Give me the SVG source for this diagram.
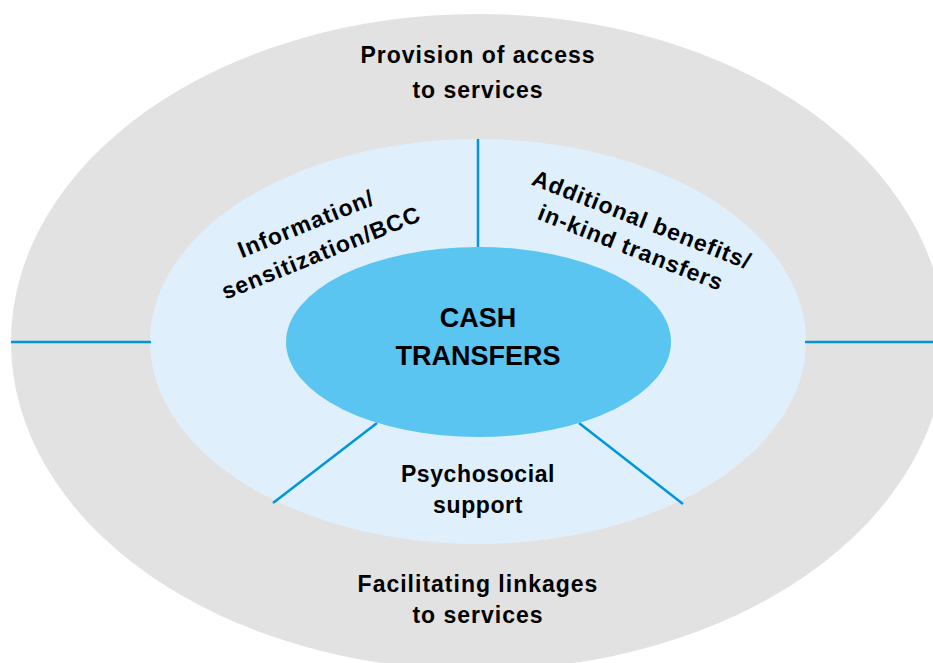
<svg xmlns="http://www.w3.org/2000/svg" width="933" height="663" viewBox="0 0 933 663">
<style>
.t{font-family:"Liberation Sans",Arial,Helvetica,sans-serif;font-weight:bold;fill:#000;text-anchor:middle;}
.o{font-size:23px;letter-spacing:1px;}
.c{font-size:27px;}
.ln{stroke:#0096db;stroke-width:2.5;fill:none;}
</style>
<rect width="933" height="663" fill="#ffffff"/>
<g id="outer">
<ellipse cx="478" cy="342" rx="467" ry="328" fill="#e2e2e2"/>
</g>
<g id="middle">
<ellipse cx="478" cy="341.5" rx="328" ry="202.5" fill="#dff0fc"/>
</g>
<g id="connectors">
<line class="ln" x1="478" y1="139" x2="478" y2="248"/>
<line class="ln" x1="11" y1="342" x2="151" y2="342"/>
<line class="ln" x1="805" y1="342" x2="933" y2="342"/>
<line class="ln" x1="377" y1="423" x2="273" y2="503"/>
<line class="ln" x1="579" y1="423" x2="683" y2="504"/>
</g>
<g id="core">
<ellipse cx="478.5" cy="342" rx="192.5" ry="95" fill="#5bc5f2"/>
<text class="t c" x="478" y="327">CASH</text>
<text class="t c" x="478" y="365">TRANSFERS</text>
</g>
<g id="provision">
<text class="t o" x="478" y="63">Provision of access</text>
<text class="t o" x="478" y="98">to services</text>
</g>
<g id="information">
<text class="t o" transform="translate(309,231) rotate(-22)">Information/</text>
<text class="t o" transform="translate(324,260) rotate(-22)">sensitization/BCC</text>
</g>
<g id="additional">
<text class="t o" transform="translate(639,227) rotate(21.5)">Additional benefits/</text>
<text class="t o" transform="translate(628,255) rotate(21.5)">in-kind transfers</text>
</g>
<g id="psychosocial">
<text class="t o" style="letter-spacing:0.6px" x="478" y="482">Psychosocial</text>
<text class="t o" style="letter-spacing:0.6px" x="478" y="513">support</text>
</g>
<g id="facilitating">
<text class="t o" x="478" y="592">Facilitating linkages</text>
<text class="t o" x="478" y="623">to services</text>
</g>
</svg>
